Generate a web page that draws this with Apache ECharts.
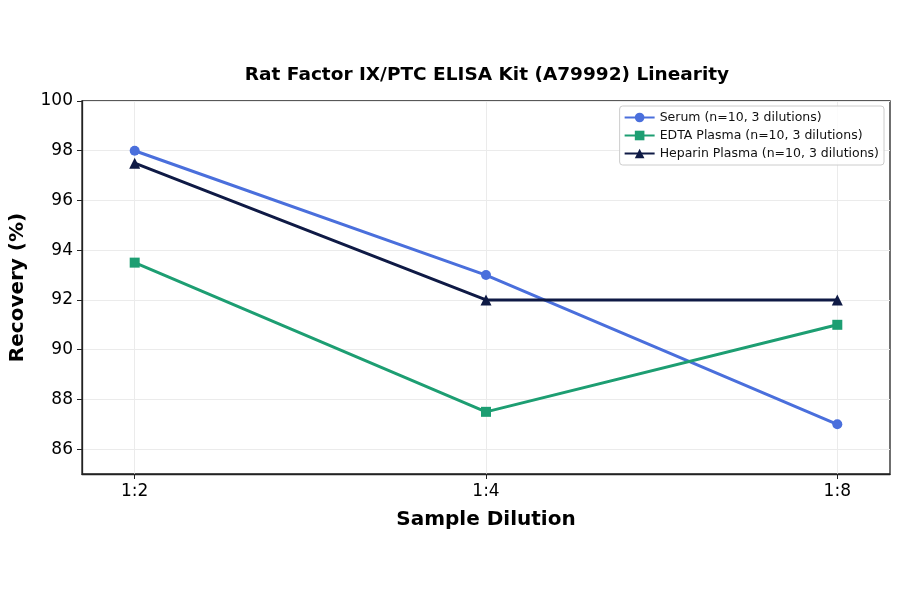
<!DOCTYPE html>
<html>
<head>
<meta charset="utf-8">
<script src="https://cdn.jsdelivr.net/npm/echarts@6/dist/echarts.min.js"></script>
<style>
  html, body { margin: 0; padding: 0; background: #fff; }
  #chart { width: 900px; height: 594px; }
</style>
</head>
<body>
<div id="chart"></div>
<script>
const dilutions = ['1:2', '1:4', '1:8']
const serum = [98, 93, 87]
const edta = [93.5, 87.5, 91]
const heparin = [97.5, 92, 92]
const yTicks = [86, 88, 90, 92, 94, 96, 98, 100]

const font = 'DejaVu Sans'
const toPoints = (vals) => vals.map((v, i) => [i, v])

var chart = echarts.init(document.getElementById('chart'))

function lineSeries(name, data, color, symbol, size) {
  return {
    name: name,
    type: 'line',
    data: toPoints(data),
    symbol: symbol,
    symbolSize: size,
    showAllSymbol: true,
    lineStyle: { color: color, width: 3 },
    itemStyle: { color: color },
    emphasis: { disabled: true }
  }
}

var option = {
  backgroundColor: '#ffffff',
  animation: false,
  title: {
    text: 'Rat Factor IX/PTC ELISA Kit (A79992) Linearity',
    left: 482,
    top: 61,
    textAlign: 'center',
    textStyle: { fontFamily: font, fontSize: 18.5, fontWeight: 'bold', color: '#000' }
  },
  legend: {
    right: 16,
    top: 106,
    orient: 'vertical',
    itemGap: 5,
    itemWidth: 30,
    itemHeight: 12,
    padding: [5, 5, 5, 4],
    borderColor: '#cccccc',
    borderWidth: 1,
    borderRadius: 3,
    backgroundColor: 'rgba(255,255,255,0.85)',
    textStyle: { fontFamily: font, fontSize: 12.5, color: '#111' },
    data: [
      'Serum (n=10, 3 dilutions)',
      'EDTA Plasma (n=10, 3 dilutions)',
      'Heparin Plasma (n=10, 3 dilutions)'
    ]
  },
  grid: {
    left: 82,
    right: 10,
    top: 101,
    bottom: 120,
    show: true,
    borderColor: '#222',
    borderWidth: 1.3
  },
  xAxis: {
    type: 'value',
    min: -0.15,
    max: 2.15,
    name: 'Sample Dilution',
    nameLocation: 'middle',
    nameGap: 36,
    nameTextStyle: { fontFamily: font, fontSize: 20, fontWeight: 'bold', color: '#000' },
    axisLine: { show: true, onZero: false, lineStyle: { color: '#222', width: 1.3 } },
    axisTick: { show: true, customValues: [0, 1, 2], length: 5, lineStyle: { color: '#222' } },
    axisLabel: {
      customValues: [0, 1, 2],
      formatter: (v) => dilutions[Math.round(v)],
      fontFamily: font,
      fontSize: 17,
      color: '#000',
      margin: 9
    },
    splitLine: { show: true, lineStyle: { color: '#ebebeb', width: 1 } }
  },
  yAxis: {
    type: 'value',
    min: 85,
    max: 100,
    name: 'Recovery (%)',
    nameLocation: 'middle',
    nameGap: 54,
    nameTextStyle: { fontFamily: font, fontSize: 20, fontWeight: 'bold', color: '#000' },
    axisLine: { show: true, onZero: false, lineStyle: { color: '#222', width: 1.3 } },
    axisTick: { show: true, customValues: yTicks, length: 5, lineStyle: { color: '#222' } },
    axisLabel: {
      customValues: yTicks,
      fontFamily: font,
      fontSize: 17,
      color: '#000',
      margin: 9
    },
    splitLine: { show: true, lineStyle: { color: '#ebebeb', width: 1 } }
  },
  series: [
    lineSeries('Serum (n=10, 3 dilutions)', serum, '#4a6fdc', 'circle', 10),
    lineSeries('EDTA Plasma (n=10, 3 dilutions)', edta, '#1d9e72', 'rect', 10),
    lineSeries('Heparin Plasma (n=10, 3 dilutions)', heparin, '#0f1a45', 'triangle', 11)
  ]
}

chart.setOption(option)
</script>
</body>
</html>
